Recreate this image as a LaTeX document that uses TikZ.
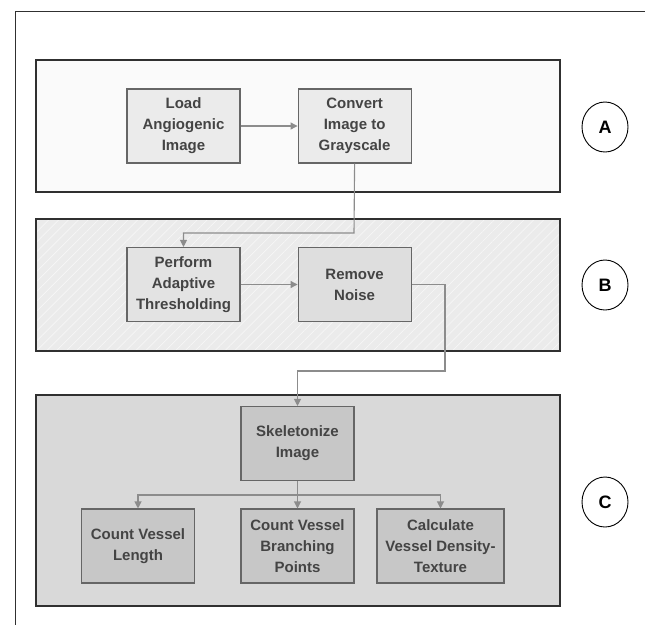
\documentclass[tikz,border=0pt]{standalone}
\usepackage{fontspec}
\setmainfont{Liberation Sans}
\usepackage{tikz}
\usepackage{xcolor}
\usetikzlibrary{shapes.geometric,arrows.meta,positioning,patterns.meta}

\definecolor{panelline}{HTML}{303030}
\definecolor{boxline}{HTML}{666666}
\definecolor{flowline}{HTML}{8C8C8C}
\definecolor{labeltext}{HTML}{444444}

\begin{document}
\begin{tikzpicture}[
    x=1pt, y=-1pt,
    node distance = 57pt,
    >={Triangle[length=7pt,width=7pt]},
    panel/.style = {draw=panelline, line width=1.3pt, rectangle,
                    minimum width=524pt, minimum height=132pt},
    stepbox/.style = {draw=boxline, line width=1.1pt, rectangle, align=center,
                      minimum width=113pt, minimum height=74pt, inner sep=2pt,
                      text=labeltext,
                      font=\fontsize{15pt}{21pt}\selectfont\bfseries},
    tag/.style = {draw=black, line width=0.9pt, ellipse, inner sep=0pt,
                  minimum width=46pt, minimum height=50pt,
                  font=\fontsize{18pt}{20pt}\selectfont\bfseries},
    flow/.style = {draw=flowline, line width=1.1pt},
  ]
    \useasboundingbox (0,0) rectangle (645,625);

    % page edge
    \draw[panelline, line width=1pt] (645,11) -- (15,11) -- (15,625);

    % the three stages
    \node[panel, fill=black!2] (panelA) at (298,126) {};
    \node[panel, preaction={fill=black!8},
          pattern={Lines[angle=45,distance=7pt,line width=0.7pt]},
          pattern color=black!3] (panelB) at (298,285) {};
    \node[panel, fill=black!15, minimum height=211pt] (panelC) at (298,500.5) {};

    \node[tag] (tagA) at (605,127) {A};
    \node[tag] (tagB) at (605,285) {B};
    \node[tag] (tagC) at (605,502) {C};

    % stage A
    \node[stepbox, fill=black!8] (load) at (183.5,126) {Load\\Angiogenic\\Image};
    \node[stepbox, fill=black!8] (convert) [right=of load] {Convert\\Image to\\Grayscale};

    % stage B
    \node[stepbox, fill=black!11] (adapt) at (183.5,284.5) {Perform\\Adaptive\\Thresholding};
    \node[stepbox, fill=black!13] (noise) [right=of adapt] {Remove\\Noise};

    % stage C
    \node[stepbox, fill=black!22] (skel) at (297.5,443.5) {Skeletonize\\Image};
    \node[stepbox, fill=black!22] (length) at (138,546) {Count Vessel\\Length};
    \node[stepbox, fill=black!22] (branch) at (297.5,546) {Count Vessel\\Branching\\Points};
    \node[stepbox, fill=black!22, minimum width=127pt] (density) at (440.5,546)
        {Calculate\\Vessel Density-\\Texture};

    \coordinate (dropA) at (354,233);
    \coordinate (dropB) at (445,371);
    \coordinate (split) at (297.5,495);

    \draw[flow, ->] (load) -- (convert);
    \draw[flow, ->] (convert.south) -- (dropA) -| (adapt.north);
    \draw[flow, ->] (adapt) -- (noise);
    \draw[flow, ->] (noise.east) -| (dropB) -| (skel.north);
    \draw[flow] (skel.south) -- (split);
    \draw[flow, ->] (split) -| (length.north);
    \draw[flow, ->] (split) -- (branch.north);
    \draw[flow, ->] (split) -| (density.north);
\end{tikzpicture}
\end{document}
